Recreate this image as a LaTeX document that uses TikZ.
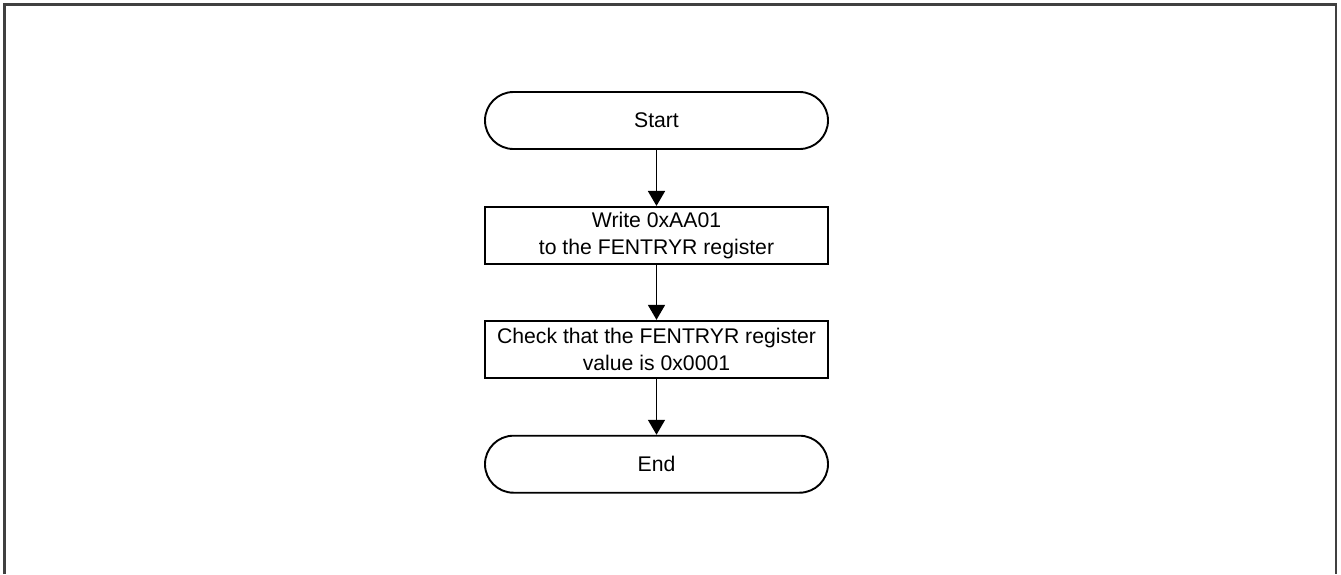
\documentclass[tikz,border=0pt]{standalone}
\usepackage{fontspec}
\setmainfont{Liberation Sans}
\usetikzlibrary{arrows.meta,positioning}
\definecolor{fcframe}{HTML}{404040}

\begin{document}
\begin{tikzpicture}[x=0.5pt, y=-0.5pt, every node/.style={font=\fontsize{10.6}{13.3}\selectfont, align=center}]
    \tikzset{
      stepbox/.style={draw, line width=0.95pt, minimum width=171.5pt, minimum height=28.5pt, inner sep=0pt},
      termbox/.style={stepbox, rounded corners=14.25pt},
      flow/.style={-{Triangle[length=7.5pt, width=8.5pt]}, line width=0.85pt}
    }
    \useasboundingbox (0, 0) rectangle (1341, 574);
    \draw[fcframe, line width=1.1pt] (4.5, 574) -- (4.5, 4.5) -- (1336, 4.5) -- (1336, 574);

    \node[termbox] (start) at (656.5, 120.5) {Start};
    \node[stepbox, below=28pt of start] (write) {Write 0xAA01\\to the FENTRYR register};
    \node[stepbox, below=27.5pt of write] (check) {Check that the FENTRYR register\\value is 0x0001};
    \node[termbox, below=28pt of check] (end) {End};

    \draw[flow] (start) -- (write);
    \draw[flow] (write) -- (check);
    \draw[flow] (check) -- (end);
  \end{tikzpicture}
\end{document}
